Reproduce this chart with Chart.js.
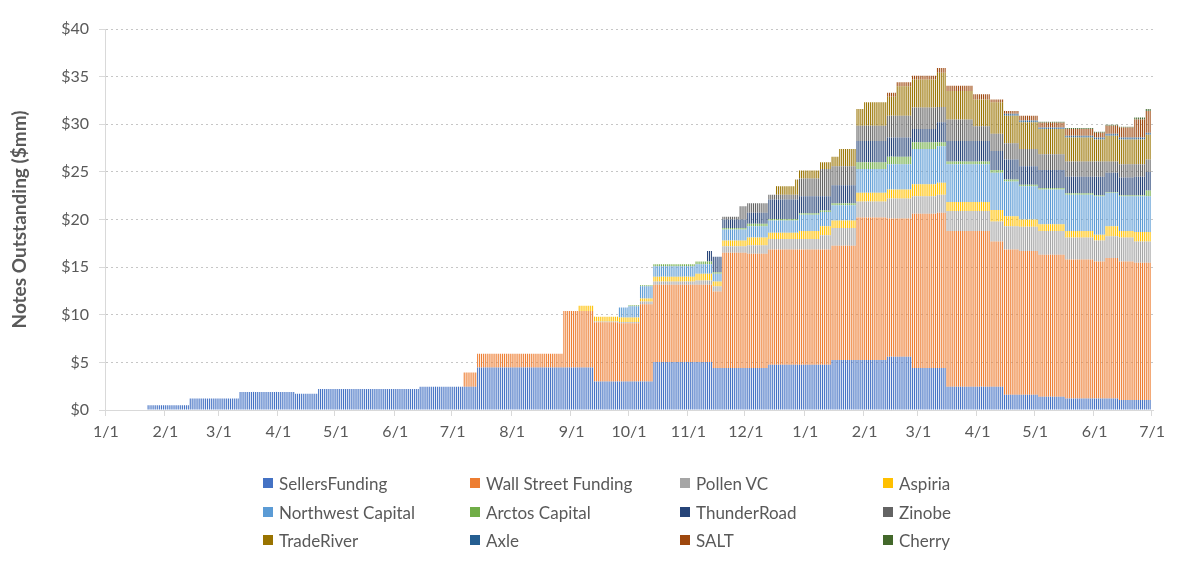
<!DOCTYPE html>
<html>
<head>
<meta charset="utf-8">
<title>Notes Outstanding</title>
<script src="https://cdn.jsdelivr.net/npm/chart.js@4.4.0/dist/chart.umd.min.js"></script>
<style>
	body { margin: 0; background: #fff; }
	#wrap { position: relative; width: 1202px; height: 565px; }
	.item { position: absolute; height: 20px; line-height: 20px; font: 17px Lato, sans-serif; color: #595959; white-space: nowrap; display: flex; align-items: center; }
	.box { display: inline-block; width: 10px; height: 10px; margin-right: 6px; }
</style>
</head>
<body>
<div id="wrap">
	<canvas id="chart" width="1202" height="565"></canvas>
</div>
<script>
// dates where the outstanding amounts change (values hold until the next date)
var segStarts = ["2018-01-23", "2018-02-14", "2018-03-12", "2018-04-10", "2018-04-22", "2018-06-14",
	"2018-07-07", "2018-07-14", "2018-08-28", "2018-09-05", "2018-09-13", "2018-09-26",
	"2018-10-01", "2018-10-07", "2018-10-14", "2018-11-05", "2018-11-11", "2018-11-14",
	"2018-11-19", "2018-11-28", "2018-12-02", "2018-12-13", "2018-12-17", "2018-12-27",
	"2018-12-29", "2019-01-09", "2019-01-15", "2019-01-19", "2019-01-28", "2019-02-01",
	"2019-02-13", "2019-02-18", "2019-02-26", "2019-03-11", "2019-03-16", "2019-03-30",
	"2019-04-08", "2019-04-15", "2019-04-23", "2019-05-03", "2019-05-17", "2019-06-01",
	"2019-06-07", "2019-06-14", "2019-06-22", "2019-06-28"];
var lastDay = "2019-06-30";

var sellersFunding = [0.5, 1.2, 1.9, 1.7, 2.2, 2.45, 2.45, 4.45, 4.45, 4.45, 3.0, 3.0, 3.0, 3.0, 5.05, 5.05, 5.05, 4.4, 4.4, 4.4, 4.4, 4.75, 4.75, 4.75, 4.75, 4.75, 5.25, 5.25, 5.25, 5.25, 5.6, 5.6, 4.4, 4.4, 2.45, 2.45, 2.45, 1.6, 1.6, 1.4, 1.2, 1.2, 1.2, 1.05, 1.05, 1.05];
var wallStreet = [0, 0, 0, 0, 0, 0, 1.5, 1.45, 5.95, 5.95, 6.2, 6.1, 6.1, 8.1, 8.1, 8.1, 8.1, 8.05, 12.1, 12.1, 12.0, 12.1, 12.1, 12.1, 12.1, 12.1, 12.0, 12.0, 14.95, 14.95, 14.5, 14.5, 16.2, 16.3, 16.35, 16.35, 15.25, 15.25, 15.1, 14.9, 14.6, 14.4, 14.75, 14.55, 14.4, 14.4];
var pollenVC = [0, 0, 0, 0, 0, 0, 0, 0, 0, 0, 0.1, 0.15, 0.15, 0.3, 0.35, 0.45, 0.45, 0.55, 0.7, 0.7, 0.9, 1.1, 1.1, 1.1, 1.1, 1.5, 1.85, 1.85, 1.7, 1.7, 2.1, 2.1, 1.85, 1.9, 2.1, 2.1, 2.1, 2.45, 2.55, 2.5, 2.3, 2.2, 2.3, 2.5, 2.25, 2.25];
var aspiria = [0, 0, 0, 0, 0, 0, 0, 0, 0, 0.55, 0.5, 0.45, 0.45, 0.3, 0.5, 0.7, 0.7, 0.5, 0.6, 0.6, 0.8, 0.65, 0.65, 0.65, 0.85, 0.95, 0.8, 0.8, 0.9, 0.9, 0.95, 0.95, 1.25, 1.25, 0.95, 0.95, 1.2, 1.05, 0.75, 0.7, 0.7, 0.6, 1.05, 0.7, 1.0, 1.0];
var northwest = [0, 0, 0, 0, 0, 0, 0, 0, 0, 0, 0, 1.05, 1.2, 1.3, 1.1, 1.0, 1.0, 0.8, 1.15, 1.15, 1.2, 1.3, 1.3, 1.3, 1.7, 1.5, 1.6, 1.6, 2.5, 2.5, 2.65, 2.65, 3.7, 3.85, 3.95, 3.95, 3.9, 3.65, 3.5, 3.65, 3.8, 4.05, 3.5, 3.65, 3.75, 3.75];
var arctos = [0, 0, 0, 0, 0, 0, 0, 0, 0, 0, 0, 0, 0.1, 0.1, 0.2, 0.3, 0.3, 0.15, 0.15, 0.15, 0.25, 0.15, 0.15, 0.15, 0.15, 0.15, 0.2, 0.2, 0.7, 0.7, 0.8, 0.8, 0.7, 0.4, 0.3, 0.3, 0.3, 0.2, 0.15, 0.15, 0.15, 0.1, 0.1, 0.1, 0.1, 0.6];
var thunderRoad = [0, 0, 0, 0, 0, 0, 0, 0, 0, 0, 0, 0, 0, 0, 0, 0, 1.1, 1.65, 0.9, 0.9, 1.15, 2.05, 2.05, 2.05, 1.8, 1.5, 1.9, 1.9, 2.25, 2.25, 2.0, 2.0, 1.4, 2.1, 2.15, 2.15, 2.0, 2.1, 1.95, 1.9, 1.75, 1.95, 2.0, 1.85, 1.95, 1.95];
var zinobe = [0, 0, 0, 0, 0, 0, 0, 0, 0, 0, 0, 0, 0, 0, 0, 0, 0, 0, 0.3, 1.4, 1.0, 0.5, 0.5, 0.5, 1.85, 2.85, 2.0, 2.0, 1.6, 1.6, 2.3, 2.3, 2.25, 1.6, 2.25, 1.55, 1.8, 1.7, 1.8, 1.65, 1.6, 1.6, 1.2, 1.4, 1.3, 1.3];
var tradeRiver = [0, 0, 0, 0, 0, 0, 0, 0, 0, 0, 0, 0, 0, 0, 0, 0, 0, 0, 0, 0, 0, 0, 0.9, 1.6, 0.85, 0.7, 1.0, 1.8, 1.75, 2.45, 2.0, 3.1, 2.95, 3.6, 3.0, 2.8, 3.3, 2.9, 2.8, 2.65, 2.5, 2.3, 2.7, 2.6, 2.6, 2.6];
var axle = [0, 0, 0, 0, 0, 0, 0, 0, 0, 0, 0, 0, 0, 0, 0, 0, 0, 0, 0, 0, 0, 0, 0, 0, 0, 0, 0, 0, 0, 0, 0, 0, 0, 0, 0, 0, 0, 0.2, 0.2, 0.15, 0.2, 0.2, 0.2, 0.2, 0.2, 0.2];
var salt = [0, 0, 0, 0, 0, 0, 0, 0, 0, 0, 0, 0, 0, 0, 0, 0, 0, 0, 0, 0, 0, 0, 0, 0, 0, 0, 0, 0, 0, 0, 0.4, 0.4, 0.4, 0.5, 0.55, 0.55, 0.3, 0.3, 0.5, 0.5, 0.7, 0.5, 0.85, 1.05, 1.9, 2.3];
var cherry = [0, 0, 0, 0, 0, 0, 0, 0, 0, 0, 0, 0, 0, 0, 0, 0, 0, 0, 0, 0, 0, 0, 0, 0, 0, 0, 0, 0, 0, 0, 0, 0, 0, 0, 0, 0, 0, 0, 0, 0.1, 0.1, 0.1, 0.1, 0.1, 0.2, 0.2];

var seriesNames = ["SellersFunding", "Wall Street Funding", "Pollen VC", "Aspiria",
	"Northwest Capital", "Arctos Capital", "ThunderRoad", "Zinobe",
	"TradeRiver", "Axle", "SALT", "Cherry"];
var seriesValues = [sellersFunding, wallStreet, pollenVC, aspiria, northwest, arctos,
	thunderRoad, zinobe, tradeRiver, axle, salt, cherry];
var colorList = ["#4472C4", "#ED7D31", "#A5A5A5", "#FFC000", "#5B9BD5", "#70AD47",
	"#264478", "#636363", "#997300", "#255E91", "#9E480E", "#43682B"];

// one category per day, 1/1/2018 .. 7/1/2019
var isoDays = [];
var dayLabels = [];
var d = new Date(Date.UTC(2018, 0, 1));
var endD = new Date(Date.UTC(2019, 6, 1));
while (d <= endD) {
	isoDays.push(d.toISOString().slice(0, 10));
	dayLabels.push((d.getUTCMonth() + 1) + "/" + d.getUTCDate());
	d.setUTCDate(d.getUTCDate() + 1);
}

function segIndex(iso) {
	if (iso > lastDay) return -1;
	var k = -1;
	for (var j = 0; j < segStarts.length; j++) {
		if (segStarts[j] <= iso) k = j;
	}
	return k;
}

var datasets = [];
for (var s = 0; s < seriesNames.length; s++) {
	var vals = [];
	for (var i = 0; i < isoDays.length; i++) {
		var k = segIndex(isoDays[i]);
		vals.push(k < 0 ? null : seriesValues[s][k]);
	}
	datasets.push({
		label: seriesNames[s],
		data: vals,
		backgroundColor: colorList[s],
		borderWidth: 0,
		barPercentage: 0.55,
		categoryPercentage: 1.0
	});
}

var ctx = document.getElementById("chart").getContext("2d");
var chart = new Chart(ctx, {
	type: "bar",
	data: { labels: dayLabels, datasets: datasets },
	options: {
		responsive: false,
		animation: false,
		layout: { padding: { left: 0, right: 49, top: 29, bottom: 115 } },
		plugins: { legend: { display: false }, tooltip: { enabled: false } },
		scales: {
			x: {
				stacked: true,
				afterFit: function (scale) { scale.height = 40; },
				border: { color: "#d9d9d9" },
				grid: {
					drawOnChartArea: false,
					tickLength: 6,
					color: function (c) {
						return (c.tick && dayLabels[c.index] && dayLabels[c.index].split("/")[1] === "1") ? "#d9d9d9" : "rgba(0,0,0,0)";
					}
				},
				ticks: {
					autoSkip: false,
					maxRotation: 0,
					minRotation: 0,
					padding: 6,
					color: "#595959",
					font: { family: "Lato", size: 16 },
					callback: function (value, index) {
						var lab = dayLabels[index];
						return lab.split("/")[1] === "1" ? lab : "";
					}
				}
			},
			y: {
				stacked: true,
				min: 0,
				max: 40,
				afterFit: function (scale) { scale.width = 105; },
				border: { color: "#d9d9d9", dash: [2, 3] },
				grid: { color: "#c6c6c6", tickColor: "#d9d9d9", tickLength: 6, tickBorderDash: [] },
				ticks: {
					stepSize: 5,
					padding: 10,
					color: "#595959",
					font: { family: "Lato", size: 16 },
					callback: function (v) { return "$" + v; }
				},
				title: {
					display: true,
					text: "Notes Outstanding ($mm)",
					color: "#595959",
					font: { family: "Lato", size: 19, weight: "bold" },
					padding: { top: 8, bottom: 0 }
				}
			}
		}
	}
});

// legend in four columns, like the original
var colX = [263, 470, 680, 883];
var rowY = [484, 513, 541];
var wrap = document.getElementById("wrap");
for (var n = 0; n < seriesNames.length; n++) {
	var item = document.createElement("div");
	item.className = "item";
	item.style.left = colX[n % 4] + "px";
	item.style.top = (rowY[Math.floor(n / 4)] - 11) + "px";
	item.innerHTML = '<span class="box" style="background:' + colorList[n] + '"></span>' + seriesNames[n];
	wrap.appendChild(item);
}
</script>
</body>
</html>
